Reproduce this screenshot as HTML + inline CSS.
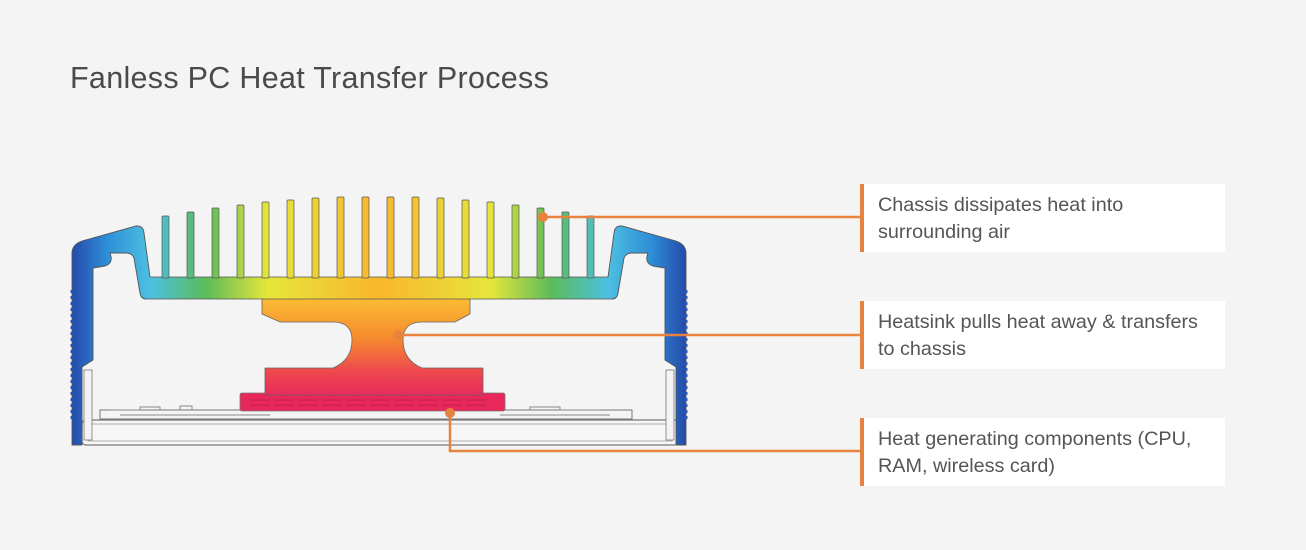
<!DOCTYPE html>
<html><head><meta charset="utf-8"><style>
html,body{margin:0;padding:0;background:#f4f4f4;}
body{width:1306px;height:550px;position:relative;overflow:hidden;font-family:"Liberation Sans",sans-serif;}
.t{position:absolute;left:70px;top:61px;font-size:30.5px;color:#4a4a4a;letter-spacing:0.3px;}
.box{position:absolute;left:860px;width:361px;height:68px;background:#fff;border-left:4px solid #e8833f;}
.box div{position:absolute;left:14px;top:8px;font-size:19.8px;line-height:27px;color:#555;white-space:nowrap;}
svg{position:absolute;left:0;top:0;}
</style></head><body>
<div class="t">Fanless PC Heat Transfer Process</div>
<svg width="1306" height="550">
<defs>
<linearGradient id="hg" gradientUnits="userSpaceOnUse" x1="70" y1="0" x2="688" y2="0">
<stop offset="0" stop-color="#2446a8"/>
<stop offset="0.06" stop-color="#2e8fd8"/>
<stop offset="0.13" stop-color="#4cc0e0"/>
<stop offset="0.22" stop-color="#5bbb5a"/>
<stop offset="0.32" stop-color="#e6e63a"/>
<stop offset="0.5" stop-color="#f9b62e"/>
<stop offset="0.68" stop-color="#e6e63a"/>
<stop offset="0.78" stop-color="#5bbb5a"/>
<stop offset="0.87" stop-color="#4cc0e0"/>
<stop offset="0.94" stop-color="#2e8fd8"/>
<stop offset="1" stop-color="#2446a8"/>
</linearGradient>
<linearGradient id="vg" x1="0" y1="0" x2="0" y2="1">
<stop offset="0" stop-color="#fbbd34"/>
<stop offset="0.4" stop-color="#f68c2c"/>
<stop offset="0.75" stop-color="#ee4a4e"/>
<stop offset="1" stop-color="#e82a5c"/>
</linearGradient>
</defs>
<rect x="82" y="420" width="596" height="25" rx="4" fill="#f7f7f7" stroke="#777" stroke-width="1.2"/>
<rect x="88" y="424" width="584" height="17" fill="none" stroke="#999" stroke-width="0.8"/>
<rect x="100" y="410" width="532" height="9" fill="#f4f4f4" stroke="#777" stroke-width="1"/>
<path d="M110,410 h30 v-3 h20 v3 M180,410 v-4 h12 v4 M300,410 v-3 h40 v3 M530,410 v-3 h30 v3 h40 M120,415 h150 M500,415 h110" fill="none" stroke="#888" stroke-width="1"/>
<rect x="240" y="393" width="265" height="18" rx="2" fill="#e8285a" stroke="#777" stroke-width="0.8"/>
<path d="M250,400 h240 M250,405 h240" stroke="#c02050" stroke-width="1" stroke-dasharray="20 4"/>
<path d="M262,298 H470 V314 L455,322 H422 Q403,322 403,340 Q403,360 422,368 H483 V395 H265 V368 H333 Q352,360 352,340 Q352,322 333,322 H280 L262,314 Z" fill="url(#vg)" stroke="#666" stroke-width="0.8"/>
<g id="ch">
<path d="M72,445 L72,252 Q73,244 82,241 L136,226 Q143,225 144,233 L150,277 L381,277 L381,299 L146,299 Q141,299 140,293 L134,258 Q132,253 126,253 L110,253 Q114,263 105,266 L93,268 L93,360 L82,367 L82,445 Z" fill="url(#hg)"/>
<path d="M82,445 L72,445 L72,252 Q73,244 82,241 L136,226 Q143,225 144,233 L150,277 M146,299 Q141,299 140,293 L134,258 Q132,253 126,253 L110,253 Q114,263 105,266 L93,268 L93,360 L82,367 L82,445" fill="none" stroke="#555" stroke-width="0.9"/>
<path d="M72,290 V420" stroke="#2a55b0" stroke-width="3" stroke-dasharray="3 3"/>
<rect x="84" y="370" width="8" height="70" fill="#f4f4f4" stroke="#777" stroke-width="0.8"/>
</g>
<use href="#ch" transform="translate(758,0) scale(-1,1)"/>
<path d="M150,277 H608" stroke="#555" stroke-width="0.8"/>
<path d="M146,299 H612" stroke="#555" stroke-width="0.8"/>
<g fill="url(#hg)" stroke="#555" stroke-width="0.7">
<rect x="162" y="216" width="7" height="62" rx="1"/>
<rect x="187" y="212" width="7" height="66" rx="1"/>
<rect x="212" y="208" width="7" height="70" rx="1"/>
<rect x="237" y="205" width="7" height="73" rx="1"/>
<rect x="262" y="202" width="7" height="76" rx="1"/>
<rect x="287" y="200" width="7" height="78" rx="1"/>
<rect x="312" y="198" width="7" height="80" rx="1"/>
<rect x="337" y="197" width="7" height="81" rx="1"/>
<rect x="362" y="197" width="7" height="81" rx="1"/>
<rect x="387" y="197" width="7" height="81" rx="1"/>
<rect x="412" y="197" width="7" height="81" rx="1"/>
<rect x="437" y="198" width="7" height="80" rx="1"/>
<rect x="462" y="200" width="7" height="78" rx="1"/>
<rect x="487" y="202" width="7" height="76" rx="1"/>
<rect x="512" y="205" width="7" height="73" rx="1"/>
<rect x="537" y="208" width="7" height="70" rx="1"/>
<rect x="562" y="212" width="7" height="66" rx="1"/>
<rect x="587" y="216" width="7" height="62" rx="1"/>
</g>
<g stroke="#e8833f" stroke-width="2.5" fill="none">
<path d="M543,217 H860"/>
<path d="M398,335 H860"/>
<path d="M450,413 V451 H860"/>
</g>
<g fill="#e8833f"><circle cx="543" cy="217" r="5"/><circle cx="398" cy="335" r="5"/><circle cx="450" cy="413" r="5"/></g>
</svg>
<div class="box" style="top:184px"><div>Chassis dissipates heat into<br>surrounding air</div></div>
<div class="box" style="top:301px"><div>Heatsink pulls heat away &amp; transfers<br>to chassis</div></div>
<div class="box" style="top:418px"><div>Heat generating components (CPU,<br>RAM, wireless card)</div></div>
</body></html>
